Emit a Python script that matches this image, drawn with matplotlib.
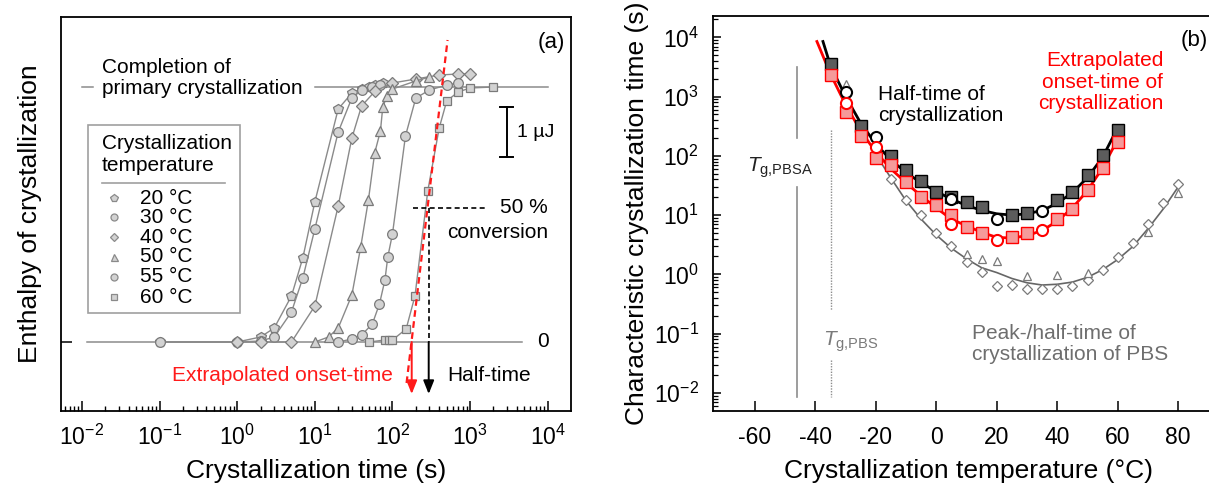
import matplotlib
matplotlib.use('Agg')
import matplotlib.pyplot as plt
from matplotlib.ticker import LogLocator, NullFormatter, FixedLocator

plt.rcParams['font.family'] = ['Liberation Sans', 'DejaVu Sans']
plt.rcParams['mathtext.fontset'] = 'custom'
plt.rcParams['mathtext.rm'] = 'Liberation Sans'
plt.rcParams['mathtext.it'] = 'Liberation Sans:italic'
plt.rcParams['mathtext.default'] = 'regular'
plt.rcParams['axes.unicode_minus'] = False

# ---------------- panel (a): isothermal crystallization curves ----------------
# time (s) and enthalpy (uJ, relative to baseline) per crystallization temperature
t20 = [0.1, 1, 2, 3, 5, 7, 10, 20, 30, 40, 50, 60, 75]
h20 = [0, 0, 0.10, 0.28, 0.92, 1.68, 2.80, 4.66, 4.98, 5.06, 5.10, 5.14, 5.18]
t30 = [0.1, 1, 2, 3, 5, 7, 10, 20, 30, 40, 55, 70]
h30 = [0, 0, 0.02, 0.10, 0.60, 1.28, 2.26, 4.20, 4.88, 5.04, 5.10, 5.14]
t40 = [1, 2, 5, 10, 20, 30, 40, 60, 100, 200, 400, 700, 1000]
h40 = [0, 0, 0, 0.72, 2.72, 4.08, 4.72, 5.02, 5.18, 5.26, 5.34, 5.36, 5.36]
t50 = [10, 15, 20, 30, 39, 49, 59, 70, 75, 85, 100, 200, 300]
h50 = [0, 0.10, 0.28, 0.94, 1.90, 2.84, 3.78, 4.22, 4.70, 4.92, 5.06, 5.22, 5.30]
t55 = [20, 30, 40, 55, 68, 80, 87, 100, 147, 200, 300, 500, 700]
h55 = [0, 0.06, 0.14, 0.36, 0.76, 1.24, 1.70, 2.16, 4.12, 4.88, 5.04, 5.14, 5.18]
t60 = [50, 80, 90, 100, 150, 195, 285, 400, 500, 700, 1000, 2000]
h60 = [0, 0.04, 0.04, 0.04, 0.26, 0.92, 3.02, 4.28, 4.82, 5.00, 5.08, 5.10]

temp_labels = ['20 °C', '30 °C', '40 °C', '50 °C', '55 °C', '60 °C']
markers_a = ['p', 'o', 'D', '^', 'o', 's']
sizes_a = [7.5, 7, 6, 7, 7, 6]

h_complete = 5.1     # completion of primary crystallization
h_half = 2.68        # 50 % conversion
t_onset = 177        # extrapolated onset time at 60 °C
t_half = 293         # half time at 60 °C
tangent_t = [152, 513]
tangent_h = [-0.82, 6.04]

# ---------------- panel (b): characteristic times vs temperature ----------------
T_sq = [-35, -25, -15, -10, -5, 0, 5, 10, 15, 25, 30, 40, 45, 50, 55, 60]
half_sq = [3600, 316, 98, 57, 38, 24.5, 20.4, 16.6, 13.5, 10, 11, 18.2, 24.5, 47, 105, 275]
T_rsq = [-35, -30, -25, -20, -15, -10, -5, 0, 5, 10, 15, 25, 30, 40, 45, 50, 55, 60]
onset_sq = [2300, 550, 214, 91, 69, 36, 20.4, 14.8, 10, 6.3, 4.9, 4.3, 5.0, 8.7, 12.9, 26, 63, 172]
T_circ = [-30, -20, 5, 20, 35]
half_circ = [1200, 210, 19, 8.7, 11.7]
onset_circ = [780, 142, 7.2, 3.8, 5.6]

T_fit_half = [-37.5, -35, -30, -25, -20, -15, -10, -5, 0, 5, 10, 15, 20, 25, 30, 35, 40, 45, 50, 55, 60]
fit_half = [8500, 3300, 1000, 355, 158, 85, 52, 35, 25, 18.6, 14.5, 12, 10.5, 10, 10.5, 12, 15.8, 24, 43, 95, 300]
T_fit_onset = [-39.5, -35, -30, -25, -20, -15, -10, -5, 0, 5, 10, 15, 20, 25, 30, 35, 40, 45, 50, 55, 60]
fit_onset = [8500, 2400, 725, 263, 115, 60, 35, 21, 13.2, 8.5, 6.6, 5.1, 4.2, 4.1, 4.5, 5.5, 7.9, 13.2, 26, 63, 190]

T_pbs_d = [-15, -10, -5, 0, 5, 10, 15, 20, 25, 30, 35, 40, 45, 50, 55, 60, 65, 70, 75, 80]
pbs_d = [40, 18, 10, 5.0, 3.0, 1.62, 1.1, 0.63, 0.65, 0.56, 0.56, 0.56, 0.63, 0.79, 1.2, 1.95, 3.4, 7.2, 15.8, 34]
T_pbs_t = [-30, 10, 15, 20, 30, 40, 50, 70, 80]
pbs_t = [1660, 2.2, 1.8, 1.7, 0.92, 0.98, 1.05, 5.2, 24]
T_fit_pbs = [-20, -15, -10, -5, 0, 5, 10, 15, 20, 25, 30, 35, 40, 45, 50, 55, 60, 65, 70, 75, 80]
fit_pbs = [105, 42, 17.4, 8.5, 4.6, 2.75, 1.82, 1.29, 1.07, 0.85, 0.72, 0.66, 0.68, 0.74, 0.89, 1.2, 1.78, 2.95, 5.9, 12.6, 30]

Tg_PBSA = -46
Tg_PBS = -35

fig = plt.figure(figsize=(12.09, 4.84), dpi=100)
W, H = 1209.0, 484.0

# ============================== panel (a) ==============================
ax = fig.add_axes([61 / W, 1 - 410.5 / H, 510 / W, 394 / H])
ax.set_xscale('log')
ax.set_xlim(10 ** -2.27, 10 ** 4.3)
ax.set_ylim(-1.37, 6.51)

ax.plot([0.0115, 4600], [0, 0], color='#8c8c8c', lw=1.1, zorder=1)
ax.plot([0.01, 0.0139], [h_complete, h_complete], color='#8c8c8c', lw=1.1, zorder=1)
ax.plot([10, 10000], [h_complete, h_complete], color='#8c8c8c', lw=1.1, zorder=1)

series = [(t20, h20), (t30, h30), (t40, h40), (t50, h50), (t55, h55), (t60, h60)]
for (tt, hh), m, ms in zip(series, markers_a, sizes_a):
    ax.plot(tt, hh, color='#8a8a8a', lw=1.0, marker=m, ms=ms, mfc='#d2d2d2',
            mec='#7a7a7a', mew=0.9, zorder=3)

# tangent at inflection (extrapolated onset) and 50 % construction
ax.plot(tangent_t, tangent_h, color='#ff1a1a', lw=1.6, ls=(0, (3, 2)), zorder=5)
ax.plot([182, 1550], [h_half, h_half], color='black', lw=1.2, ls=(0, (3, 2)), zorder=4)
ax.plot([t_half, t_half], [h_half, 0], color='black', lw=1.2, ls=(0, (3, 2)), zorder=4)
ax.annotate('', xy=(t_onset, -1.04), xytext=(t_onset, 0),
            arrowprops=dict(arrowstyle='-|>,head_length=0.8,head_width=0.32',
                            color='#ff1a1a', lw=1.4, shrinkA=0, shrinkB=0))
ax.annotate('', xy=(t_half, -1.04), xytext=(t_half, 0),
            arrowprops=dict(arrowstyle='-|>,head_length=0.8,head_width=0.32',
                            color='black', lw=1.4, shrinkA=0, shrinkB=0))

# 1 uJ scale bar
ax.plot([2950, 2950], [3.7, 4.7], color='black', lw=1.4)
ax.plot([2450, 3550], [4.7, 4.7], color='black', lw=1.4)
ax.plot([2450, 3550], [3.7, 3.7], color='black', lw=1.4)
ax.text(3970, 4.2, '1 µJ', fontsize=14, va='center', ha='left')

ax.text(0.988, 0.933, '(a)', transform=ax.transAxes, fontsize=16, ha='right', va='center')
ax.text(0.080, 0.844, 'Completion of\nprimary crystallization', transform=ax.transAxes,
        fontsize=15, ha='left', va='center', linespacing=1.15)
ax.text(0.955, 0.514, '50 %', transform=ax.transAxes, fontsize=15, ha='right', va='center')
ax.text(0.955, 0.451, 'conversion', transform=ax.transAxes, fontsize=15, ha='right', va='center')
ax.text(0.945, 0.174, '0', transform=ax.transAxes, fontsize=15, ha='center', va='center')
ax.text(0.651, 0.090, 'Extrapolated onset-time', transform=ax.transAxes, fontsize=15,
        ha='right', va='center', color='#ff1a1a')
ax.text(0.757, 0.090, 'Half-time', transform=ax.transAxes, fontsize=15, ha='left', va='center')

# hand-made legend
ax.add_patch(plt.Rectangle((0.053, 0.247), 0.298, 0.478, transform=ax.transAxes,
                           fill=False, ec='#a0a0a0', lw=1.2, zorder=6))
ax.text(0.080, 0.650, 'Crystallization\ntemperature', transform=ax.transAxes, fontsize=15,
        ha='left', va='center', linespacing=1.15, zorder=7)
ax.plot([0.080, 0.322], [0.577, 0.577], transform=ax.transAxes, color='#a0a0a0', lw=1.2)
leg_y = [0.539, 0.490, 0.440, 0.390, 0.339, 0.288]
for yy, m, ms, lab in zip(leg_y, markers_a, sizes_a, temp_labels):
    ax.plot([0.104], [yy], transform=ax.transAxes, marker=m, ms=ms * 0.72, mfc='#d2d2d2',
            mec='#8a8a8a', mew=0.9, ls='none')
    ax.text(0.155, yy, lab, transform=ax.transAxes, fontsize=15, ha='left', va='center')

ax.xaxis.set_major_locator(LogLocator(base=10, numticks=20))
ax.xaxis.set_minor_locator(LogLocator(base=10, subs=range(2, 10), numticks=50))
ax.xaxis.set_minor_formatter(NullFormatter())
ax.set_xticks([1e-2, 1e-1, 1e0, 1e1, 1e2, 1e3, 1e4])
ax.tick_params(axis='x', which='major', direction='in', length=7.5, width=1.1,
               labelsize=16.5, pad=10, top=False)
ax.tick_params(axis='x', which='minor', direction='in', length=3.8, width=1.0, top=False)
ax.yaxis.set_major_locator(FixedLocator([0]))
ax.tick_params(axis='y', which='major', direction='in', length=8, width=1.1,
               labelleft=False, right=False)
ax.tick_params(axis='y', which='minor', left=False, right=False)
for s in ax.spines.values():
    s.set_linewidth(1.3)
ax.set_xlabel('Crystallization time (s)', fontsize=19, labelpad=7)
ax.set_ylabel('Enthalpy of crystallization', fontsize=19, labelpad=14)

# ============================== panel (b) ==============================
bx = fig.add_axes([712.6 / W, 1 - 410.6 / H, 511 / W, 394.6 / H])
bx.set_yscale('log')
bx.set_xlim(-74, 95)
bx.set_ylim(10 ** -2.3, 10 ** 4.36)

# glass transitions
bx.plot([Tg_PBSA, Tg_PBSA], [10 ** 3.50, 10 ** 2.30], color='#8c8c8c', lw=1.2)
bx.plot([Tg_PBSA, Tg_PBSA], [10 ** 1.47, 10 ** -2.07], color='#8c8c8c', lw=1.2)
bx.plot([Tg_PBS, Tg_PBS], [10 ** 2.43, 10 ** -0.6], color='#8c8c8c', lw=1.0, ls=(0, (1, 1)))
bx.plot([Tg_PBS, Tg_PBS], [10 ** -1.45, 10 ** -2.07], color='#8c8c8c', lw=1.0, ls=(0, (1, 1)))

# PBS reference
bx.plot(T_fit_pbs, fit_pbs, color='#666666', lw=1.2, zorder=2)
bx.plot(T_pbs_d, pbs_d, ls='none', marker='D', ms=5, mfc='white', mec='#7a7a7a', mew=0.9, zorder=3)
bx.plot(T_pbs_t, pbs_t, ls='none', marker='^', ms=6, mfc='white', mec='#7a7a7a', mew=0.9, zorder=3)

# PBSA fits and data
bx.plot(T_fit_half, fit_half, color='black', lw=2.0, zorder=4)
bx.plot(T_fit_onset, fit_onset, color='#ff0000', lw=2.0, zorder=4)
bx.plot(T_sq, half_sq, ls='none', marker='s', ms=8, mfc='#5c5c5c', mec='black', mew=1.0, zorder=5)
bx.plot(T_rsq, onset_sq, ls='none', marker='s', ms=8, mfc='#f59a9a', mec='#ff0000', mew=1.0, zorder=5)
bx.plot(T_circ, half_circ, ls='none', marker='o', ms=8, mfc='white', mec='black', mew=1.5, zorder=6)
bx.plot(T_circ, onset_circ, ls='none', marker='o', ms=8, mfc='white', mec='#ff0000', mew=1.5, zorder=6)

bx.text(-51.6, 62, r'$\mathit{T}_{\mathrm{g{,}PBSA}}$', fontsize=15, ha='center', va='center',
        color='#222222')
bx.text(-37.5, 0.072, r'$\mathit{T}_{\mathrm{g{,}PBS}}$', fontsize=15, ha='left', va='center',
        color='#7a7a7a')
bx.text(-19.2, 720, 'Half-time of\ncrystallization', fontsize=15, ha='left', va='center',
        linespacing=1.15)
bx.text(75, 1750, 'Extrapolated\nonset-time of\ncrystallization', fontsize=15, ha='right',
        va='center', multialignment='right', color='#ff0000', linespacing=1.15)
bx.text(11.9, 0.066, 'Peak-/half-time of\ncrystallization of PBS', fontsize=15, ha='left',
        va='center', color='#6e6e6e', linespacing=1.15)
bx.text(80.7, 10 ** 3.95, '(b)', fontsize=16, ha='left', va='center')

bx.set_xticks([-60, -40, -20, 0, 20, 40, 60, 80])
bx.yaxis.set_major_locator(LogLocator(base=10, numticks=20))
bx.yaxis.set_minor_locator(LogLocator(base=10, subs=range(2, 10), numticks=50))
bx.yaxis.set_minor_formatter(NullFormatter())
bx.set_yticks([1e-2, 1e-1, 1e0, 1e1, 1e2, 1e3, 1e4])
bx.tick_params(axis='x', which='major', direction='in', length=7.5, width=1.1,
               labelsize=16.5, pad=11, top=False)
bx.tick_params(axis='y', which='major', direction='in', length=6, width=1.1,
               labelsize=16.5, pad=10, right=False)
bx.tick_params(axis='y', which='minor', direction='in', length=3.5, width=0.9, right=False)
for s in bx.spines.values():
    s.set_linewidth(1.3)
bx.set_xlabel('Crystallization temperature (°C)', fontsize=19, labelpad=7)
bx.set_ylabel('Characteristic crystallization time (s)', fontsize=19, labelpad=3)

fig.savefig('out.png', dpi=100)
